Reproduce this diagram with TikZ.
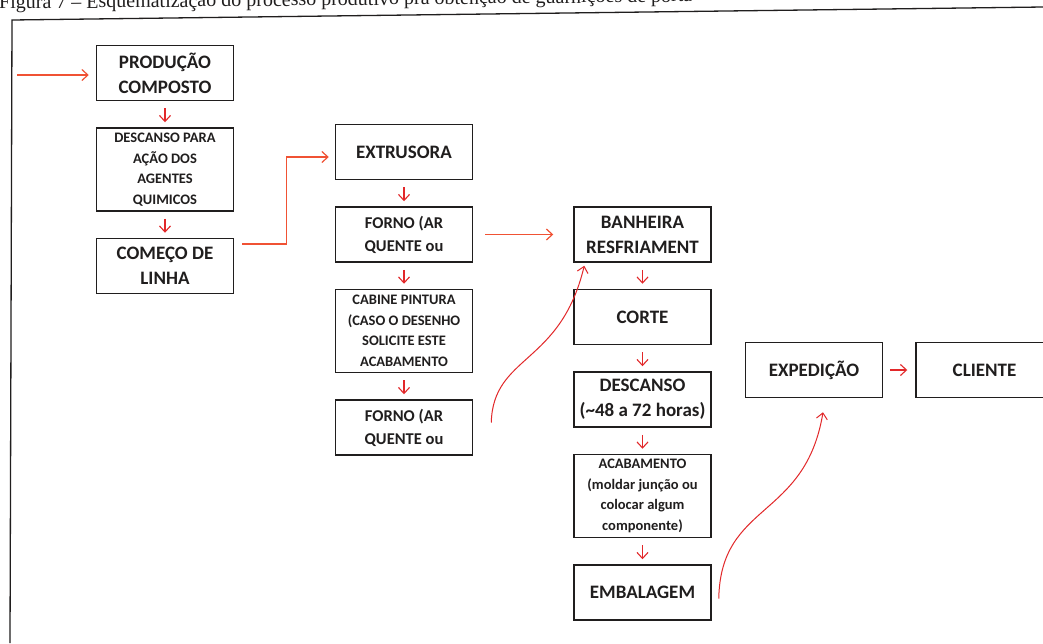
\documentclass[tikz,border=0pt]{standalone}
\usepackage{fontspec}
\setmainfont{Carlito}
\newfontfamily\captionfont{Liberation Serif}
\usepackage{tikz}
\usetikzlibrary{positioning}
\usetikzlibrary{calc}
\usetikzlibrary{arrows.meta}
\definecolor{flowred}{RGB}{226,40,42}
\definecolor{floworange}{RGB}{240,82,52}
\definecolor{inkgray}{RGB}{32,30,30}
\tikzstyle{stage}=[draw=inkgray,line width=1.5pt,rectangle,align=center,minimum width=137pt,minimum height=55pt,inner sep=1pt,text=inkgray,font=\bfseries\fontsize{19}{25}\selectfont]
\tikzstyle{stagemid}=[stage,font=\bfseries\fontsize{16.5}{23}\selectfont]
\tikzstyle{stagetall}=[stage,minimum height=83pt,font=\bfseries\fontsize{14.5}{20.5}\selectfont]

\begin{document}
\begin{tikzpicture}[x=1pt,y=-1pt,node distance=26pt,>={Straight Barb[length=6pt,width=11pt]}]

	\tikzstyle{flowstep}=[->,draw=flowred,line width=1.1pt,shorten <=7pt,shorten >=5pt];
	\tikzstyle{flowlink}=[->,draw=floworange,line width=1.2pt];
	\tikzstyle{flowcurve}=[->,draw=flowred,line width=1pt];

	\useasboundingbox[fill=white] (0,0) rectangle (1043,643);

	% page caption and frame
	\node (caption) [anchor=base west,inner sep=0,rotate=0.6,text=inkgray,font=\captionfont\fontsize{20}{22}\selectfont] at (-1,9) {Figura 7 – Esquematização do processo produtivo pra obtenção de guarnições de porta};
	\draw[inkgray,line width=1.3pt] (10,643) -- (12,20) -- (1043,7);

	% first column
	\node (prod) [stage] at (165,73) {PRODUÇÃO\\COMPOSTO};
	\node (desc) [stagetall,below=of prod] {DESCANSO PARA\\AÇÃO DOS\\AGENTES\\QUIMICOS};
	\node (comeco) [stage,below=of desc] {COMEÇO DE\\LINHA};

	% second column
	\node (extr) [stage] at (404,152) {EXTRUSORA};
	\node (forno1) [stagemid,below=of extr] {FORNO (AR\\QUENTE ou};
	\node (cabine) [stagetall,below=of forno1] {CABINE PINTURA\\(CASO O DESENHO\\SOLICITE ESTE\\ACABAMENTO};
	\node (forno2) [stagemid,below=of cabine] {FORNO (AR\\QUENTE ou};

	% third column
	\node (banheira) [stage,right=100pt of forno1] {BANHEIRA\\RESFRIAMENT};
	\node (corte) [stage,below=of banheira] {CORTE};
	\node (descanso) [stage,below=of corte] {DESCANSO\\(\textasciitilde48 a 72 horas)};
	\node (acab) [stagetall,below=of descanso] {ACABAMENTO\\(moldar junção ou\\colocar algum\\componente)};
	\node (embal) [stage,below=of acab] {EMBALAGEM};

	\node (exped) [stage] at (814,370) {EXPEDIÇÃO};
	\node (cliente) [stage,right=32pt of exped] {CLIENTE};

	\coordinate (feed) at (17,75);
	\coordinate (comecoexit) at ($(comeco.east)+(8,-22)$);
	\coordinate (fornoexit) at ($(forno2.east)+(18,-5)$);
	\coordinate (banheiraentry) at ($(banheira.south west)+(11,3)$);
	\coordinate (embalexit) at ($(embal.east)+(7,6)$);
	\coordinate (expedentry) at ($(exped.south)+(9,14)$);

	\foreach \from/\to in {prod/desc,desc/comeco,extr/forno1,forno1/cabine,cabine/forno2,banheira/corte,corte/descanso,descanso/acab,acab/embal}
		\draw[flowstep] (\from) -- (\to);
	\draw[flowstep,shorten >=8pt] (exped) -- (cliente);

	\draw[flowlink,shorten >=7pt] (feed) -- (feed -| prod.west);
	\draw[flowlink] (comecoexit) -- ++(44,0) |- ($(extr.west)+(-6,5)$);
	\draw[flowlink,shorten <=12pt,shorten >=20pt] (forno1) -- (banheira);
	\draw[flowcurve] (fornoexit) .. controls +(2,-68) and +(-24,100) .. (banheiraentry);
	\draw[flowcurve] (embalexit) .. controls +(2,-97) and +(-18,108) .. (expedentry);
\end{tikzpicture}
\end{document}
